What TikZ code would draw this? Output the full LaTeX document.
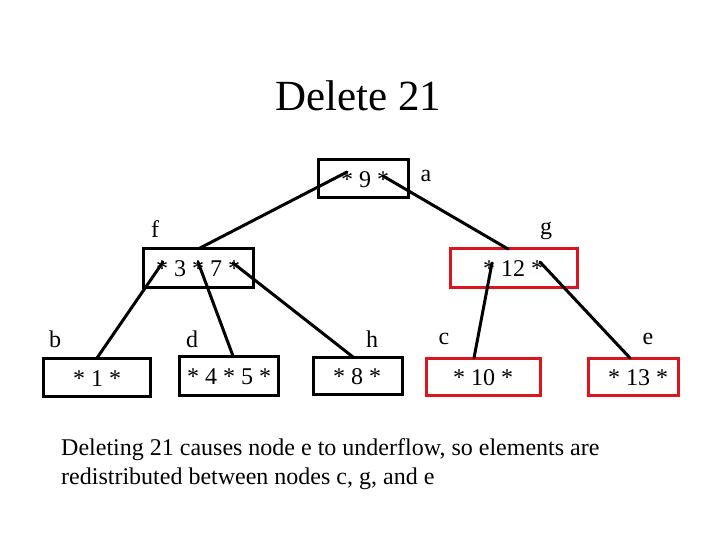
\documentclass[tikz,border=0pt]{standalone}
\usepackage{fontspec}
\setmainfont{Liberation Serif}
\definecolor{boxred}{RGB}{220,20,30}
\begin{document}
\begin{tikzpicture}[x=1pt,y=-1pt,
  keybox/.style={draw=black,line width=3pt,inner sep=0pt},
  redbox/.style={draw=boxred,line width=3pt,inner sep=0pt},
  keytxt/.style={font=\fontsize{24}{28}\selectfont,inner sep=0pt},
  lbl/.style={font=\fontsize{24}{28}\selectfont,inner sep=0pt},
  edge/.style={line width=3pt,line cap=round}]
\useasboundingbox (0,0) rectangle (720,540);
% title
\node[font=\fontsize{43}{50}\selectfont,inner sep=0pt] (title) at (358,96) {Delete 21};
% boxes
\draw[keybox] (318,160) rectangle (408,198);
\draw[keybox] (143,248) rectangle (253,287);
\draw[redbox] (450,248) rectangle (577,287);
\draw[keybox] (43,358) rectangle (150,396);
\draw[keybox] (179,356) rectangle (278,395);
\draw[keybox] (313,357) rectangle (402,394);
\draw[redbox] (426,358) rectangle (540,395);
\draw[redbox] (588,358) rectangle (678,395);
% key texts
\node[keytxt] (a) at (365,180) {* 9 *};
\node[keytxt] (f) at (198,269) {* 3 * 7 *};
\node[keytxt] (g) at (513,269) {* 12 *};
\node[keytxt] (b) at (97,379) {* 1 *};
\node[keytxt] (d) at (229,377) {* 4 * 5 *};
\node[keytxt] (h) at (357,377) {* 8 *};
\node[keytxt] (c) at (483,378) {* 10 *};
\node[keytxt] (e) at (638,378) {* 13 *};
% labels
\node[lbl] (la) at (426,176) {a};
\node[lbl] (lf) at (155,229) {f};
\node[lbl] (lg) at (546,231) {g};
\node[lbl] (lb) at (55,339) {b};
\node[lbl] (ld) at (192,339) {d};
\node[lbl] (lh) at (372,339) {h};
\node[lbl] (lc) at (444,339) {c};
\node[lbl] (le) at (648,339) {e};
% pointer coordinates
\coordinate (a1) at (347,172);
\coordinate (a2) at (383,176);
\coordinate (f0) at (200,248);
\coordinate (g0) at (508,249);
\coordinate (f1) at (163,262);
\coordinate (f2) at (198,262);
\coordinate (f3) at (233,263);
\coordinate (g1) at (492,263);
\coordinate (g2) at (540,262);
\coordinate (b0) at (97,358);
\coordinate (d0) at (233,356);
\coordinate (h0) at (353,357);
\coordinate (c0) at (474,358);
\coordinate (e0) at (630,358);
\draw[edge] (a1) -- (f0);
\draw[edge] (a2) -- (g0);
\draw[edge] (f1) -- (b0);
\draw[edge] (f2) -- (d0);
\draw[edge] (f3) -- (h0);
\draw[edge] (g1) -- (c0);
\draw[edge] (g2) -- (e0);
% caption
\node[anchor=base west,font=\fontsize{24}{28}\selectfont,inner sep=0pt] (cap1) at (61,455) {Deleting 21 causes node e to underflow, so elements are};
\node[anchor=base west,font=\fontsize{24}{28}\selectfont,inner sep=0pt] (cap2) at (61,484) {redistributed between nodes c, g, and e};
\end{tikzpicture}
\end{document}
